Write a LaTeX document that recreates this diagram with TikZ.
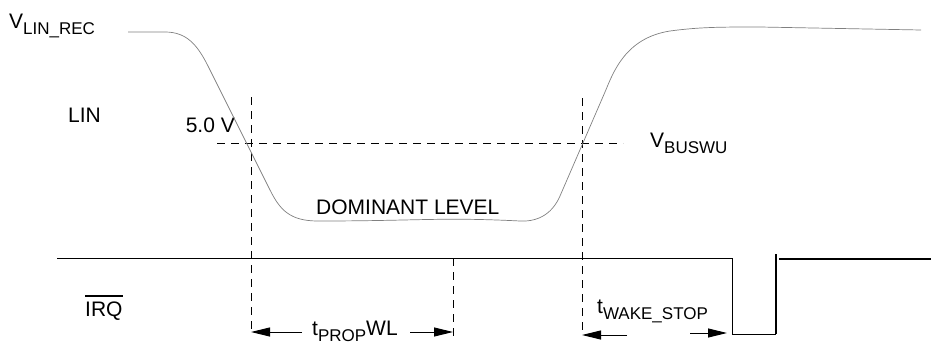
\documentclass[tikz,border=0pt]{standalone}
\usepackage{fontspec}
\setmainfont{Liberation Sans}
\usetikzlibrary{arrows.meta}

\newcommand{\lsub}[1]{\raisebox{-6pt}{\fontsize{17}{17}\selectfont #1}}
\newcommand{\obar}[1]{\vbox{\hrule height 1.6pt\kern 4.5pt\hbox{#1}}}

\begin{document}
\begin{tikzpicture}[x=1pt, y=-1pt]
  \tikzstyle{sigtext}=[inner sep=0pt, anchor=base west, font=\fontsize{21}{25}\selectfont]
  \tikzstyle{guideline}=[line width=0.8pt, dash pattern=on 8pt off 6pt]
  \tikzstyle{spanarrow}=[line width=0.9pt, -{Triangle[length=19pt, width=9pt]}]
  \tikzstyle{lincurve}=[line width=0.7pt, gray]
  \tikzstyle{irqline}=[line width=0.9pt]
  \tikzstyle{irqthick}=[line width=2pt]

  \useasboundingbox (0, 0) rectangle (931, 343);

  \node[sigtext] (vrec)  at (9,   28)  {V\lsub{LIN\_REC}};
  \node[sigtext] (lin)   at (68,  122) {LIN};
  \node[sigtext, anchor=base east] (five) at (235, 132) {5.0 V};
  \node[sigtext] (dom)   at (316, 214) {DOMINANT LEVEL};
  \node[sigtext] (vbus)  at (650, 147) {V\lsub{BUSWU}};
  \node[sigtext] (irq)   at (85,  316) {\obar{IRQ}};
  \node[sigtext] (tprop) at (312, 335) {t\lsub{PROP}WL};
  \node[sigtext] (twake) at (597, 313) {t\lsub{WAKE\_STOP}};

  \coordinate (g1top) at (251, 97);
  \coordinate (g1bot) at (251, 334);
  \coordinate (g2top) at (582, 98);
  \coordinate (g2bot) at (582, 334);
  \coordinate (g3top) at (453, 258);
  \coordinate (g3bot) at (453, 341);
  \coordinate (hl)    at (217, 143);
  \coordinate (hr)    at (623, 143);

  \draw[guideline] (g1top) -- (g1bot);
  \draw[guideline] (g2top) -- (g2bot);
  \draw[guideline] (g3top) -- (g3bot);
  \draw[guideline] (hl) -- (hr);

  % LIN bus waveform
  \draw[lincurve] (128, 32) -- (165, 32)
    .. controls (186, 32) and (197, 44) .. (208, 66)
    -- (270, 190) .. controls (280, 210) and (290, 221) .. (318, 221)
    .. controls (420, 221) and (440, 217) .. (520, 221)
    .. controls (540, 222) and (553, 212) .. (560, 196)
    -- (605, 92) .. controls (613, 73) and (625, 38) .. (670, 31)
    .. controls (700, 27) and (720, 27) .. (760, 27) -- (921, 30);

  % IRQ output
  \coordinate (irqa) at (57,  258);
  \coordinate (irqb) at (732, 258);
  \coordinate (irqc) at (732, 334);
  \coordinate (irqd) at (776, 334);
  \coordinate (irqe) at (776, 254);
  \coordinate (irqf) at (779, 259);
  \coordinate (irqg) at (931, 259);

  \draw[irqline]  (irqa) -- (irqb) -- (irqc) -- (irqd);
  \draw[irqthick] (irqd) -- (irqe);
  \draw[irqthick] (irqf) -- (irqg);

  \coordinate (pl)  at (302, 332);
  \coordinate (plt) at (251, 332);
  \coordinate (pr)  at (410, 332);
  \coordinate (prt) at (453, 332);
  \coordinate (wl)  at (627, 335);
  \coordinate (wlt) at (582, 335);
  \coordinate (wr)  at (690, 333);
  \coordinate (wrt) at (727, 333);

  \draw[spanarrow] (pl) -- (plt);
  \draw[spanarrow] (pr) -- (prt);
  \draw[spanarrow] (wl) -- (wlt);
  \draw[spanarrow] (wr) -- (wrt);

\end{tikzpicture}
\end{document}
